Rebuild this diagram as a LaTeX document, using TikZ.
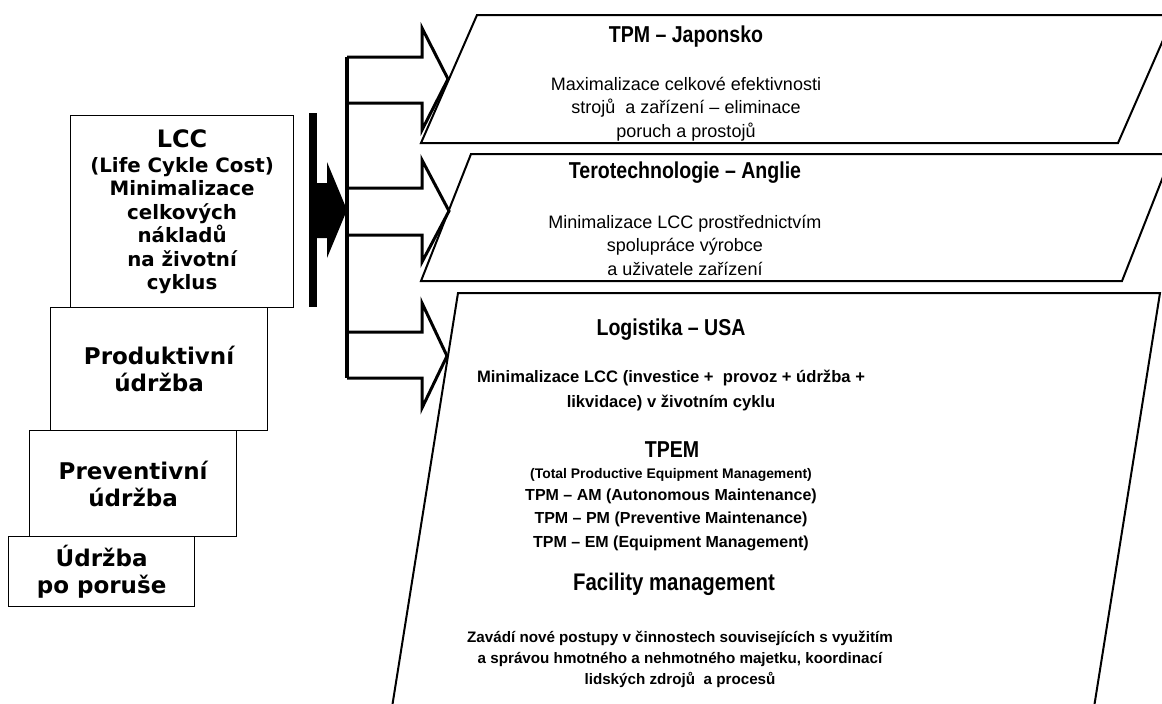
\documentclass[tikz,border=0pt]{standalone}
\usepackage{fontspec}
\setmainfont{Liberation Sans}
\newfontfamily\widesans{DejaVu Sans}
\newfontfamily\narrowsans[FakeStretch=0.85]{Liberation Sans}
\usetikzlibrary{positioning}
\tikzset{stepbox/.style={draw=black,line width=1.2pt,fill=white,align=center,inner sep=0pt,font=\widesans\bfseries\fontsize{23}{27}\selectfont},
  para/.style={draw=black,line width=2pt,line join=miter},
  branch/.style={draw=black,line width=3pt,line join=miter},
  trunk/.style={draw=black,line width=4pt},
  title/.style={align=center,inner sep=0pt,anchor=base,font=\narrowsans\bfseries\fontsize{23}{26}\selectfont},
  body/.style={align=center,inner sep=0pt,anchor=base,font=\fontsize{18}{23.3}\selectfont},
  bodyb/.style={align=center,inner sep=0pt,anchor=base,font=\bfseries\fontsize{16}{23.5}\selectfont}}

\begin{document}
\begin{tikzpicture}[x=1pt,y=-1pt]
\useasboundingbox (0,0) rectangle (1162,704);
\clip (0,0) rectangle (1162,704);
% stupne udrzby
\node[stepbox,font=\widesans\bfseries\fontsize{19.8}{23.5}\selectfont,minimum width=223pt,minimum height=192pt,anchor=north west] (lcc) at (70,115) {{\fontsize{24}{24}\selectfont LCC}\\[1.5pt](Life Cykle Cost)\\Minimalizace\\celkových\\nákladů\\na životní\\cyklus};
\node[stepbox,minimum width=217pt,minimum height=123pt,anchor=north west] (prod) at (50,307) {Produktivní\\údržba};
\node[stepbox,minimum width=207pt,minimum height=106pt,anchor=north west] (prev) at (29,430) {Preventivní\\údržba};
\node[stepbox,minimum width=186pt,minimum height=70pt,anchor=north west] (fail) at (8,536) {Údržba\\po poruše};
% prechod
\node[fill=black,minimum width=8pt,minimum height=194pt,inner sep=0pt,anchor=north west] (bar) at (309,113) {};
\coordinate (hub) at (347,210);
\fill (317,183) -- (327,183) -- (327,162) -- (hub) -- (327,258) -- (327,238) -- (317,238) -- cycle;
% koncepce
\draw[para] (477,15) -- (1174,15) -- (1118,143) -- (421,143) -- cycle;
\draw[para] (471,154) -- (1172,154) -- (1122,281) -- (421,281) -- cycle;
\draw[para] (458,293) -- (1160,293) -- (1092,720) -- (390,720) -- cycle;
\coordinate (tipjap) at (448,79);
\coordinate (tipang) at (449,211);
\coordinate (tipusa) at (447,356);
\draw[trunk] (347,57) -- (347,378);
\draw[branch] (347,57) -- (422,57) -- (422,28) -- (tipjap) -- (422,130) -- (422,103) -- (347,103);
\draw[branch] (347,188) -- (422,188) -- (422,160) -- (tipang) -- (422,262) -- (422,235) -- (347,235);
\draw[branch] (347,332) -- (422,332) -- (422,303) -- (tipusa) -- (422,408) -- (422,378) -- (347,378);
% texty
\node[title] (jap) at (686,42) {TPM – Japonsko};
\node[body] (japtxt) at (686,137) {Maximalizace celkové efektivnosti\\strojů~ a zařízení – eliminace\\poruch a prostojů};
\node[title] (ang) at (685,178) {Terotechnologie – Anglie};
\node[body] (angtxt) at (685,275) {Minimalizace LCC prostřednictvím\\spolupráce výrobce\\a uživatele zařízení};
\node[title] (usa) at (671,335) {Logistika – USA};
\node[bodyb,font=\bfseries\fontsize{16.6}{25}\selectfont] (usatxt) at (671,407) {Minimalizace LCC (investice +~ provoz + údržba +\\likvidace) v životním cyklu};
\node[title] (tpem) at (672,457) {TPEM};
\node[bodyb,font=\bfseries\fontsize{13.9}{14}\selectfont] (tpemfull) at (671,478) {(Total Productive Equipment Management)};
\node[bodyb] (tpm) at (671,547) {TPM – AM (Autonomous Maintenance)\\TPM – PM (Preventive Maintenance)\\TPM – EM (Equipment Management)};
\node[title,font=\narrowsans\bfseries\fontsize{24}{26}\selectfont] (fm) at (674,590) {Facility management};
\node[bodyb,font=\bfseries\fontsize{15.2}{21}\selectfont] (fmtxt) at (680,684) {Zavádí nové postupy v činnostech souvisejících s využitím\\a správou hmotného a nehmotného majetku, koordinací\\lidských zdrojů~ a procesů};
\end{tikzpicture}
\end{document}
